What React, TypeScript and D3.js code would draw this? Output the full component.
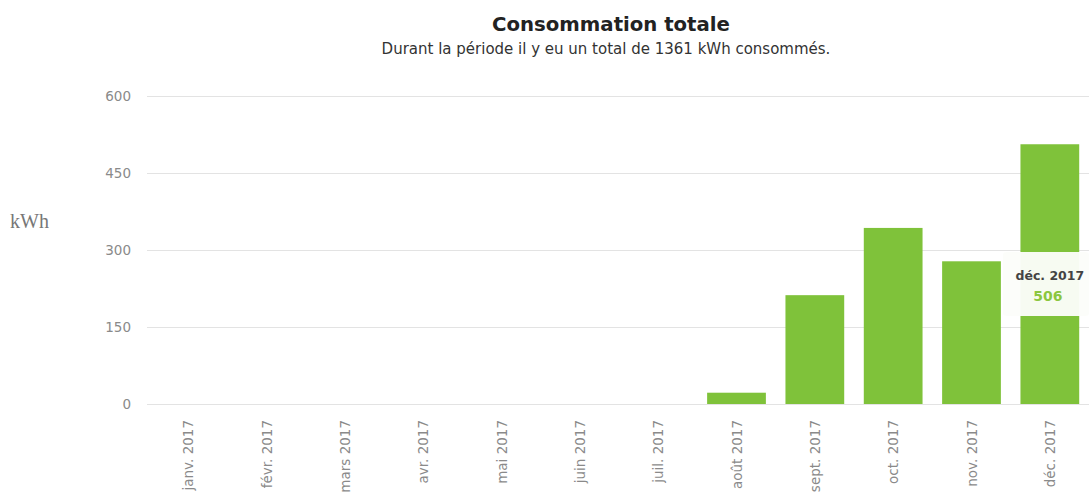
import React, { useEffect, useRef } from 'react';
import * as d3 from 'd3';

const months = [
  'janv. 2017', 'févr. 2017', 'mars 2017', 'avr. 2017', 'mai 2017', 'juin 2017',
  'juil. 2017', 'août 2017', 'sept. 2017', 'oct. 2017', 'nov. 2017', 'déc. 2017',
];
const consumption = [0, 0, 0, 0, 0, 0, 0, 22, 212, 343, 278, 506];
const yTicks = [0, 150, 300, 450, 600];

const title = 'Consommation totale';
const subtitle = 'Durant la période il y eu un total de 1361 kWh consommés.';

const WIDTH = 1089;
const HEIGHT = 494;

const App: React.FC = () => {
  const svgRef = useRef<SVGSVGElement>(null);

  useEffect(() => {
    if (!svgRef.current) return;
    const svg = d3.select(svgRef.current);
    svg.selectAll('*').remove();

    const font = "'DejaVu Sans', Verdana, sans-serif";
    const left = 149;
    const right = 1089;
    const top = 96;
    const bottom = 404;

    const x = d3.scaleBand<string>()
      .domain(months)
      .range([left, right])
      .paddingInner(0.25)
      .paddingOuter(0.125);

    const y = d3.scaleLinear()
      .domain([0, 600])
      .range([bottom, top]);

    // titles
    svg.append('text')
      .attr('x', 611)
      .attr('y', 31)
      .attr('text-anchor', 'middle')
      .attr('font-family', font)
      .attr('font-weight', 'bold')
      .attr('font-size', 19.7)
      .attr('fill', '#222')
      .text(title);

    svg.append('text')
      .attr('x', 606)
      .attr('y', 54)
      .attr('text-anchor', 'middle')
      .attr('font-family', font)
      .attr('font-size', 15)
      .attr('fill', '#333')
      .text(subtitle);

    // grid
    svg.append('g')
      .selectAll('line')
      .data(yTicks)
      .join('line')
      .attr('x1', left - 2)
      .attr('x2', right)
      .attr('y1', d => y(d) + 0.5)
      .attr('y2', d => y(d) + 0.5)
      .attr('stroke', '#e3e3e3')
      .attr('stroke-width', 1);

    svg.append('g')
      .selectAll('text')
      .data(yTicks)
      .join('text')
      .attr('x', 131)
      .attr('y', d => y(d) + 5)
      .attr('text-anchor', 'end')
      .attr('font-family', font)
      .attr('font-size', 13.5)
      .attr('fill', '#8a8a8a')
      .text(d => String(d));

    svg.append('text')
      .attr('x', 10)
      .attr('y', 228)
      .attr('font-family', "'Liberation Serif', serif")
      .attr('font-size', 20)
      .attr('fill', '#777')
      .text('kWh');

    // bars
    svg.append('g')
      .selectAll('rect')
      .data(consumption)
      .join('rect')
      .attr('x', (_, i) => x(months[i])!)
      .attr('width', x.bandwidth())
      .attr('y', d => y(d))
      .attr('height', d => bottom - y(d))
      .attr('fill', '#7fc23a');

    // x labels
    svg.append('g')
      .selectAll('text')
      .data(months)
      .join('text')
      .attr('transform', d => `translate(${x(d)! + x.bandwidth() / 2 + 5},${bottom + 16}) rotate(-90)`)
      .attr('text-anchor', 'end')
      .attr('font-family', font)
      .attr('font-size', 13.5)
      .attr('fill', '#8a8a8a')
      .text(d => d);

    // tooltip for last bar
    const last = months.length - 1;
    const tx = x(months[last])! + x.bandwidth() / 2;
    const tip = svg.append('g');
    tip.append('rect')
      .attr('x', 1003)
      .attr('y', 252)
      .attr('width', 86)
      .attr('height', 64)
      .attr('rx', 3)
      .attr('fill', 'rgba(252,253,250,0.96)');
    tip.append('text')
      .attr('x', tx)
      .attr('y', 280)
      .attr('text-anchor', 'middle')
      .attr('font-family', font)
      .attr('font-weight', 'bold')
      .attr('font-size', 12.5)
      .attr('fill', '#444')
      .text(months[last]);
    tip.append('text')
      .attr('x', tx - 2)
      .attr('y', 301)
      .attr('text-anchor', 'middle')
      .attr('font-family', font)
      .attr('font-weight', 'bold')
      .attr('font-size', 14)
      .attr('fill', '#8cc63f')
      .text(String(consumption[last]));
  }, []);

  return (
    <div style={{ position: 'absolute', left: 0, top: 0 }}>
      <svg ref={svgRef} width={WIDTH} height={HEIGHT} style={{ display: 'block', background: '#fff' }} />
    </div>
  );
};

export default App;
